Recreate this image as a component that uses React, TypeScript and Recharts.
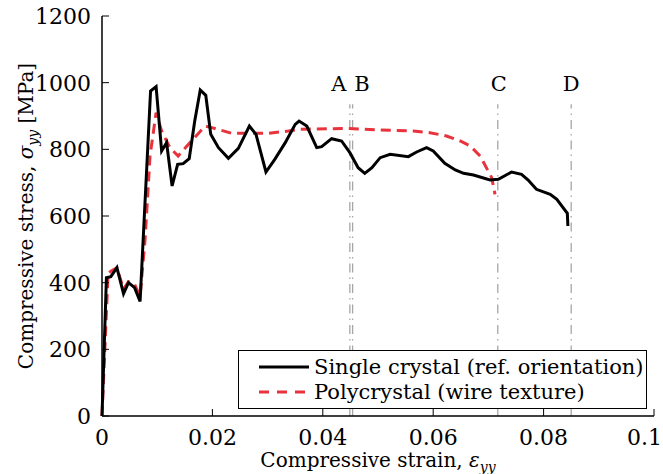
import React from "react";
import {
  LineChart,
  Line,
  XAxis,
  YAxis,
  ReferenceLine,
  ReferenceDot,
  Legend,
  Label,
} from "recharts";

// strain / stress
const singleStrain = [
  0, 0.0008, 0.0016, 0.0027, 0.0039, 0.0048, 0.0059, 0.0069, 0.0088, 0.0098,
  0.0108, 0.0117, 0.0127, 0.0137, 0.0147, 0.0158, 0.0168, 0.0178, 0.0188,
  0.0197, 0.0211, 0.0229, 0.0247, 0.0267, 0.0279, 0.0297, 0.0313, 0.0332,
  0.035, 0.0357, 0.0371, 0.0389, 0.0398, 0.0416, 0.0434, 0.0449, 0.0464,
  0.0476, 0.0489, 0.0504, 0.0522, 0.0555, 0.057, 0.0588, 0.06, 0.0621, 0.064,
  0.0655, 0.0673, 0.0703, 0.0718, 0.0742, 0.076, 0.0772, 0.0787, 0.0812,
  0.0824, 0.0843, 0.0844,
];
const singleStress = [
  0, 415, 418, 445, 367, 400, 385, 344, 975, 988, 795, 820, 690, 755, 757, 772,
  885, 978, 962, 845, 805, 773, 803, 870, 845, 732, 770, 820, 875, 885, 870,
  805, 808, 832, 825, 790, 745, 728, 745, 775, 785, 778, 792, 805, 795, 758,
  738, 728, 723, 708, 710, 732, 725, 708, 680, 665, 650, 608, 570,
];
const polyStrain = [
  0, 0.0011, 0.0016, 0.0027, 0.0039, 0.0048, 0.0059, 0.0069, 0.0078, 0.0087,
  0.0098, 0.0108, 0.0123, 0.0138, 0.0162, 0.0187, 0.0199, 0.0235, 0.0265,
  0.0301, 0.0338, 0.0359, 0.0443, 0.0504, 0.0564, 0.0594, 0.0624, 0.0649,
  0.0667, 0.0685, 0.0706, 0.0712,
];
const polyStress = [
  0, 427, 434, 445, 380, 403, 395, 359, 529, 780, 910, 855, 805, 780, 825, 870,
  865, 848, 848, 848, 855, 860, 863, 858, 855, 850, 840, 825, 810, 780, 715,
  665,
];

const xTicks = [0, 0.02, 0.04, 0.06, 0.08, 0.1];
const yTicks = [0, 200, 400, 600, 800, 1000, 1200];

const markerNames = ["A", "B", "C", "D"];
const markerStrain = [0.0449, 0.0454, 0.0717, 0.085];
const markerLabelStrain = [0.0429, 0.0471, 0.0719, 0.085];
const markerTop = 935;
const markerLabelStress = 1000;

const singleData = singleStrain.map((x, i) => ({ x, y: singleStress[i] }));
const polyData = polyStrain.map((x, i) => ({ x, y: polyStress[i] }));

const serif = "'DejaVu Serif', serif";
const RED = "#e8333c";
const GREY = "#a6a6a6";
const TICK = 7;
const TICK_FS = 22;
const TEXT_FS = 21;
const TITLE_FS = 20;

const BottomTick = (props: any) => {
  const { x, y, payload } = props;
  const last = payload.value === xTicks[xTicks.length - 1];
  return (
    <g>
      <line x1={x} x2={x} y1={y} y2={y - TICK} stroke="#000" strokeWidth={1} />
      <text
        x={last ? x + 8 : x}
        y={y + 29}
        textAnchor={last ? "end" : "middle"}
        style={{ fontFamily: serif, fontSize: TICK_FS }}
        fill="#000"
      >
        {String(payload.value)}
      </text>
    </g>
  );
};

const TopTick = (props: any) => {
  const { x, y } = props;
  return <line x1={x} x2={x} y1={y} y2={y + TICK} stroke="#000" strokeWidth={1} />;
};

const LeftTick = (props: any) => {
  const { x, y, payload } = props;
  return (
    <g>
      <line x1={x} x2={x + TICK} y1={y} y2={y} stroke="#000" strokeWidth={1} />
      <text x={x - 11} y={y + 8} textAnchor="end" style={{ fontFamily: serif, fontSize: TICK_FS }} fill="#000">
        {String(payload.value)}
      </text>
    </g>
  );
};

const RightTick = (props: any) => {
  const { x, y } = props;
  return <line x1={x} x2={x - TICK} y1={y} y2={y} stroke="#000" strokeWidth={1} />;
};

const XTitle = (props: any) => {
  const { viewBox } = props;
  const cx = viewBox.x + viewBox.width / 2;
  return (
    <text x={cx} y={viewBox.y + 51} textAnchor="middle" style={{ fontFamily: serif, fontSize: TITLE_FS }} fill="#000">
      Compressive strain,{" "}
      <tspan fontStyle="italic">ε</tspan>
      <tspan fontStyle="italic" style={{ fontSize: 14 }} dy={5}>yy</tspan>
    </text>
  );
};

const YTitle = (props: any) => {
  const { viewBox } = props;
  const cy = viewBox.y + viewBox.height / 2;
  const cx = 33;
  return (
    <text
      x={cx}
      y={cy}
      transform={`rotate(-90 ${cx} ${cy})`}
      textAnchor="middle"
      style={{ fontFamily: serif, fontSize: TITLE_FS }}
      fill="#000"
    >
      Compressive stress,{" "}
      <tspan fontStyle="italic">σ</tspan>
      <tspan fontStyle="italic" style={{ fontSize: 14 }} dy={5}>yy</tspan>
      <tspan dy={-5}>{"\u00a0[MPa]"}</tspan>
    </text>
  );
};

const Letter = (props: any) => {
  const { viewBox, text } = props;
  return (
    <text
      x={viewBox.x + viewBox.width / 2}
      y={viewBox.y + viewBox.height / 2 + 8}
      textAnchor="middle"
      style={{ fontFamily: serif, fontSize: TEXT_FS }}
      fill="#000"
    >
      {text}
    </text>
  );
};

const LegendBox = () => (
  <div
    style={{
      boxSizing: "border-box",
      width: 409,
      height: 59,
      border: "1.5px solid #000",
      background: "#fff",
      fontFamily: serif,
      fontSize: TEXT_FS,
      padding: "3px 0 0 20px",
      color: "#000",
    }}
  >
    <div style={{ display: "flex", alignItems: "center", height: 25 }}>
      <svg width={50} height={10}>
        <line x1={0} x2={50} y1={5} y2={5} stroke="#000" strokeWidth={3} />
      </svg>
      <span style={{ marginLeft: 5, whiteSpace: "nowrap" }}>Single crystal (ref. orientation)</span>
    </div>
    <div style={{ display: "flex", alignItems: "center", height: 25 }}>
      <svg width={50} height={10}>
        <line x1={0} x2={50} y1={5} y2={5} stroke={RED} strokeWidth={3} strokeDasharray="10 8" />
      </svg>
      <span style={{ marginLeft: 5, whiteSpace: "nowrap" }}>Polycrystal (wire texture)</span>
    </div>
  </div>
);

export default function App() {
  return (
    <div style={{ width: 663, height: 474, position: "relative" }}>
      <style>{`body{margin:0}`}</style>
      <LineChart width={663} height={474} margin={{ top: 16, right: 9, left: 0, bottom: 0 }}>
        <XAxis
          dataKey="x"
          type="number"
          domain={[0, 0.1]}
          ticks={xTicks}
          height={58}
          tickSize={0}
          tickMargin={0}
          tick={<BottomTick />}
          axisLine={{ stroke: "#000", strokeWidth: 1.5 }}
          interval={0}
        >
          <Label content={<XTitle />} />
        </XAxis>
        <XAxis
          xAxisId="top"
          orientation="top"
          dataKey="x"
          type="number"
          domain={[0, 0.1]}
          ticks={xTicks}
          height={0}
          tickSize={0}
          tickMargin={0}
          tick={<TopTick />}
          axisLine={{ stroke: "#000", strokeWidth: 1.5 }}
          interval={0}
        />
        <YAxis
          type="number"
          domain={[0, 1200]}
          ticks={yTicks}
          width={102}
          tickSize={0}
          tickMargin={0}
          tick={<LeftTick />}
          axisLine={{ stroke: "#000", strokeWidth: 1.5 }}
          interval={0}
        >
          <Label content={<YTitle />} />
        </YAxis>
        <YAxis
          yAxisId="right"
          orientation="right"
          type="number"
          domain={[0, 1200]}
          ticks={yTicks}
          width={0}
          tickSize={0}
          tickMargin={0}
          tick={<RightTick />}
          axisLine={{ stroke: "#000", strokeWidth: 1.5 }}
          interval={0}
        />
        {markerStrain.map((s, i) => (
          <ReferenceLine
            key={markerNames[i]}
            segment={[
              { x: s, y: 0 },
              { x: s, y: markerTop },
            ]}
            stroke={GREY}
            strokeWidth={1.3}
            strokeDasharray="9 5 1.5 5"
          />
        ))}
        {markerNames.map((n, i) => (
          <ReferenceDot
            key={"lbl" + n}
            x={markerLabelStrain[i]}
            y={markerLabelStress}
            r={0}
            fill="none"
            stroke="none"
            label={<Letter text={n} />}
          />
        ))}
        <Line
          data={polyData}
          dataKey="y"
          type="linear"
          stroke={RED}
          strokeWidth={3}
          strokeDasharray="10 6"
          dot={false}
          isAnimationActive={false}
          name="Polycrystal (wire texture)"
        />
        <Line
          data={singleData}
          dataKey="y"
          type="linear"
          stroke="#000"
          strokeWidth={3}
          dot={false}
          isAnimationActive={false}
          name="Single crystal (ref. orientation)"
        />
        <Legend
          layout="vertical"
          align="center"
          verticalAlign="middle"
          content={<LegendBox />}
          wrapperStyle={{ left: 238, top: 350, width: 409, height: 59 }}
        />
      </LineChart>
    </div>
  );
}
